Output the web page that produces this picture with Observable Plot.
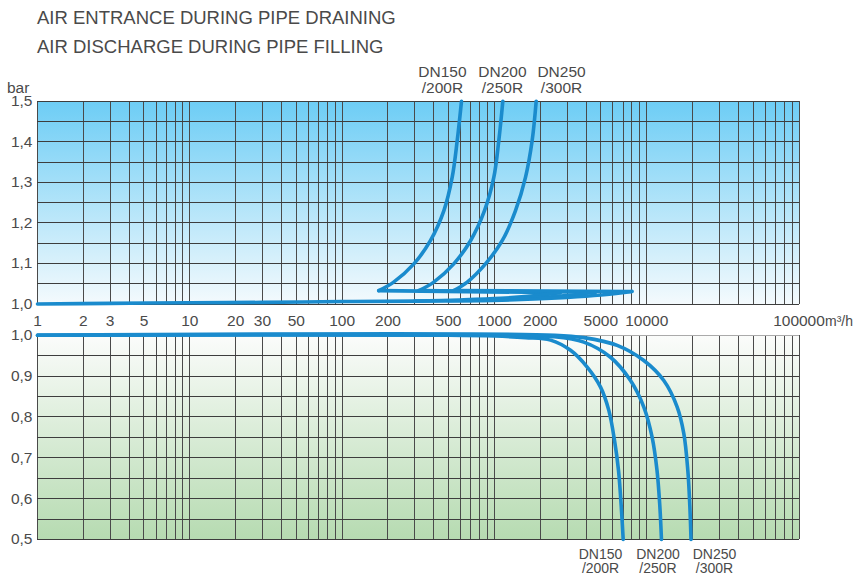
<!DOCTYPE html>
<html><head><meta charset="utf-8">
<script src="https://cdn.jsdelivr.net/npm/d3@7"></script>
<script src="https://cdn.jsdelivr.net/npm/@observablehq/plot@0.6"></script>
<style>
body{margin:0;background:#fff;font-family:"Liberation Sans",Arial,Helvetica,sans-serif;}
#wrap{position:relative;width:859px;height:579px;overflow:hidden;background:#fff;}
.t{position:absolute;left:37px;font-size:18.5px;line-height:1;color:#4a4a4a;white-space:nowrap;}
#top,#bot{position:absolute;left:0;}
#top{top:60px}
#bot{top:330px}
</style></head><body>
<div id="wrap">
<div class="t" style="top:9.3px">AIR ENTRANCE DURING PIPE DRAINING</div>
<div class="t" style="top:38.3px">AIR DISCHARGE DURING PIPE FILLING</div>
<div class="t" style="left:7px;top:80px;font-size:15.5px">bar</div>
<div id="top"></div><div id="bot"></div>
</div>
<script>
// ---- tick labels / grid ----
const xTicks = [1,2,3,5,10,20,30,50,100,200,500,1000,2000,5000,10000,100000];
const yTicksTop = [1.0,1.1,1.2,1.3,1.4,1.5];
const yTicksBot = [0.5,0.6,0.7,0.8,0.9,1.0];
const gridX = d3.range(0,5).flatMap(k => [1,2,3,4,5,6,7,8,9].map(m => m*Math.pow(10,k))).concat([100000]);
const gridYTop = d3.range(0,11).map(i => +(1 + i*0.05).toFixed(2));
const gridYBot = d3.range(0,11).map(i => +(0.5 + i*0.05).toFixed(2));

// ---- air entrance (draining), [m3/h, bar] ----
const baseDrain = [[1,1.000],[3,1.0015],[10,1.003],[30,1.004],[100,1.006],[300,1.007],[700,1.008]];
const dn150Rise = [[174,1.033],[218,1.054],[296,1.099],[380,1.156],[466,1.230],[528,1.312],[570,1.403],[608,1.5]];
const dn200Rise = [[319,1.033],[400,1.054],[541,1.099],[697,1.156],[861,1.230],[991,1.312],[1069,1.403],[1136,1.5]];
const dn250Rise = [[541,1.033],[663,1.054],[874,1.099],[1125,1.156],[1376,1.230],[1600,1.312],[1770,1.403],[1881,1.5]];
const dn150Flat = [[174,1.033],[2700,1.028]];
const dn200Flat = [[319,1.033],[4600,1.029]];
const dn250Flat = [[541,1.033],[8000,1.031]];
const dn150Back = [[2700,1.028],[1800,1.020],[1100,1.014],[600,1.010],[300,1.007]];
const dn200Back = [[4600,1.029],[3000,1.021],[1800,1.015],[900,1.010],[500,1.008]];
const dn250Back = [[8000,1.031],[5000,1.022],[3000,1.016],[1500,1.011],[700,1.008]];

// ---- air discharge (filling), [m3/h, bar] ----
const dn150Fill = [[1,1.0],[500,1.0],[1000,0.998],[1600,0.994],[2336,0.988],[3162,0.963],[4067,0.922],[4977,0.873],[5640,0.816],[6150,0.742],[6530,0.669],[6800,0.583],[7010,0.5]];
const dn200Fill = [[1,1.0],[1500,1.0],[2336,0.997],[3864,0.983],[5786,0.946],[7830,0.889],[9575,0.824],[10860,0.750],[11690,0.669],[12190,0.583],[12500,0.5]];
const dn250Fill = [[1,1.0],[2500,1.0],[3864,0.994],[6400,0.975],[9575,0.938],[12950,0.889],[15860,0.824],[17530,0.759],[18620,0.669],[19190,0.583],[19540,0.5]];

// ---- labels ----
const seriesLabels = ["DN150\n/200R","DN200\n/250R","DN250\n/300R"];
const topLabelX = [456,1130,2760];
const botLabelX = [4977,11870,27870];
const unitLabel = ["m³/h"];

const BLUE = "#1a8bcd";
const TXT = "#4a4a4a";
const FONT = '"Liberation Sans", Arial, Helvetica, sans-serif';
const fmt = d => d.toFixed(1).replace(".", ",");
const seg = (arr, id) => arr.map(([x,y]) => ({x, y, id}));

const topData = [
  ...seg(baseDrain,"base"),
  ...seg(dn150Rise,"r150"), ...seg(dn200Rise,"r200"), ...seg(dn250Rise,"r250"),
  ...seg(dn150Flat,"f150"), ...seg(dn200Flat,"f200"), ...seg(dn250Flat,"f250"),
  ...seg(dn150Back,"b150"), ...seg(dn200Back,"b200"), ...seg(dn250Back,"b250")
];
const botData = [...seg(dn150Fill,"150"), ...seg(dn200Fill,"200"), ...seg(dn250Fill,"250")];

const common = {
  width: 859, marginLeft: 37, marginRight: 60.5,
  style: {fontFamily: FONT, fontSize: "15.5px", color: TXT, background: "transparent", overflow: "visible"}
};

const topSvg = Plot.plot({
  ...common,
  height: 270, marginTop: 40.7, marginBottom: 26.5,
  x: {type: "log", domain: [1,100000], axis: null},
  y: {domain: [1,1.5], ticks: yTicksTop, tickFormat: fmt, tickSize: 0, tickPadding: 5, label: null},
  marks: [
    Plot.frame({fill: "url(#gTop)"}),
    Plot.ruleX(gridX, {stroke: "#4a4a4a", strokeWidth: 1, shapeRendering: "crispEdges"}),
    Plot.ruleY(gridYTop, {stroke: "#3d3d3d", strokeWidth: 1, shapeRendering: "crispEdges"}),
    Plot.line(topData, {x: "x", y: "y", z: "id", stroke: BLUE, strokeWidth: 3.6, curve: "catmull-rom", strokeLinecap: "round"}),
    Plot.text(xTicks, {x: d => d, y: 1.0, text: d => String(d), dy: 17, fill: TXT, fontSize: 15.5}),
    Plot.text(seriesLabels, {x: (d,i) => topLabelX[i], y: 1.5, text: d => d, lineAnchor: "top", lineHeight: 1.0, dy: -35, fill: TXT, fontSize: 15.5}),
    Plot.text(unitLabel, {x: 100000, y: 1.0, text: d => d, dx: 26, dy: 17.5, textAnchor: "start", fill: TXT, fontSize: 14})
  ]
});
d3.select(topSvg).insert("defs", ":first-child").html(
  '<linearGradient id="gTop" x1="0" y1="0" x2="0" y2="1"><stop offset="0" stop-color="#6dcdf5"/><stop offset="1" stop-color="#f4fafd"/></linearGradient>');
document.getElementById("top").appendChild(topSvg);

const botSvg = Plot.plot({
  ...common,
  height: 249, marginTop: 4.7, marginBottom: 40,
  x: {type: "log", domain: [1,100000], axis: null},
  y: {domain: [0.5,1.0], ticks: yTicksBot, tickFormat: fmt, tickSize: 0, tickPadding: 5, label: null},
  marks: [
    Plot.frame({fill: "url(#gBot)"}),
    Plot.ruleX(gridX, {stroke: "#4a4a4a", strokeWidth: 1, shapeRendering: "crispEdges"}),
    Plot.ruleY(gridYBot, {stroke: d => d === 1 ? "#aaaaaa" : "#3d3d3d", strokeWidth: 1, shapeRendering: "crispEdges"}),
    Plot.line(botData, {x: "x", y: "y", z: "id", stroke: BLUE, strokeWidth: 3.6, curve: "catmull-rom"}),
    Plot.text(seriesLabels, {x: (d,i) => botLabelX[i], y: 0.5, text: d => d, lineAnchor: "top", lineHeight: 1.0, dy: 9.4, fill: TXT, fontSize: 14})
  ]
});
d3.select(botSvg).insert("defs", ":first-child").html(
  '<linearGradient id="gBot" x1="0" y1="0" x2="0" y2="1"><stop offset="0" stop-color="#fbfcfb"/><stop offset="1" stop-color="#b6dbb1"/></linearGradient>');
document.getElementById("bot").appendChild(botSvg);
</script>
</body></html>
